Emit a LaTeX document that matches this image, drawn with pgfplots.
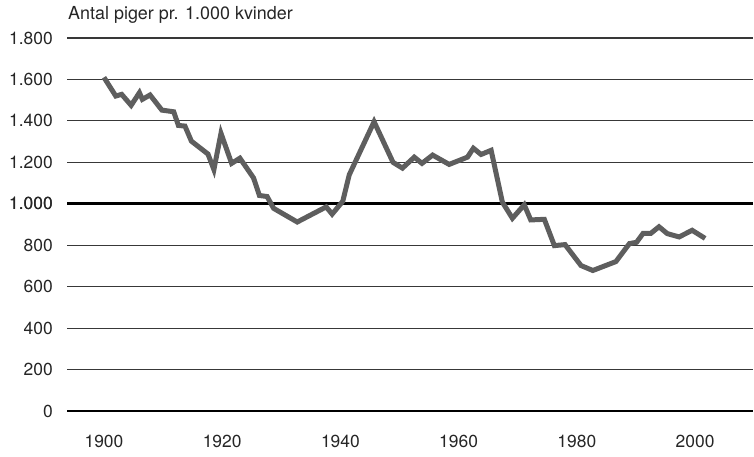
\documentclass[border=0pt]{standalone}
\usepackage{pgfplots}
\pgfplotsset{compat=1.18}
\usepackage{fontspec}
\setmainfont{TeX Gyre Heros}
\definecolor{linegray}{HTML}{5E5E5E}
\definecolor{txt}{HTML}{262626}

\begin{document}
\begin{tikzpicture}
\path[use as bounding box] (0,0) rectangle (754bp,457bp);
\begin{axis}[
  at={(67bp,46bp)}, anchor=south west,
  scale only axis,
  width=686bp, height=373bp,
  xmin=1893.75, xmax=2009.8,
  ymin=0, ymax=1800,
  xtick={1900,1920,...,2000},
  ytick={200,400,...,1800},
  extra y ticks={0,1000},
  extra y tick style={grid style={black, line width=2.7bp}},
  axis line style={draw=none},
  major tick length=0pt,
  ymajorgrids,
  grid style={black!78, line width=1.2bp},
  /pgf/number format/assume math mode=true,
  ticklabel style={font=\fontsize{17.5}{20}\selectfont, text=txt},
  yticklabel style={anchor=east, inner sep=0pt, xshift=-14bp,
    /pgf/number format/1000 sep={.}},
  xticklabel style={anchor=north, inner sep=0pt, yshift=-23.5bp,
    /pgf/number format/1000 sep={}},
  clip=false,
]
\addplot[linegray, line width=5bp, line join=miter, miter limit=4] coordinates {
  (1900,1610) (1902,1520) (1903,1528) (1904.6,1475) (1906,1536) (1906.5,1504)
  (1907.8,1525) (1909.8,1452) (1911.8,1444) (1912.6,1378) (1913.7,1375)
  (1914.8,1302) (1917.6,1240) (1918.6,1165) (1919.8,1340) (1921.6,1195)
  (1923,1220) (1925.3,1125) (1926.3,1040) (1927.6,1035) (1928.7,978)
  (1932.7,912) (1937.6,985) (1938.6,950) (1940.4,1012) (1941.5,1140)
  (1945.7,1396) (1948.9,1200) (1950.5,1172) (1952.5,1225) (1953.8,1195)
  (1955.6,1235) (1958.4,1190) (1961.5,1225) (1962.5,1268) (1963.8,1238)
  (1965.5,1258) (1967.4,1008) (1969.1,930) (1971.1,995) (1972.2,922)
  (1974.5,925) (1976.2,798) (1978,803) (1980.7,702) (1982.7,678)
  (1986.6,721) (1988.9,808) (1990.1,814) (1991.2,857) (1992.5,857)
  (1993.9,889) (1995.3,856) (1997.3,840) (1999.5,872) (2001.7,833)
};
\end{axis}
\node[anchor=base west, inner sep=0pt, text=txt, font=\fontsize{18}{21}\selectfont]
  at (68bp,437bp) {Antal piger pr. 1.000 kvinder};
\end{tikzpicture}
\end{document}
